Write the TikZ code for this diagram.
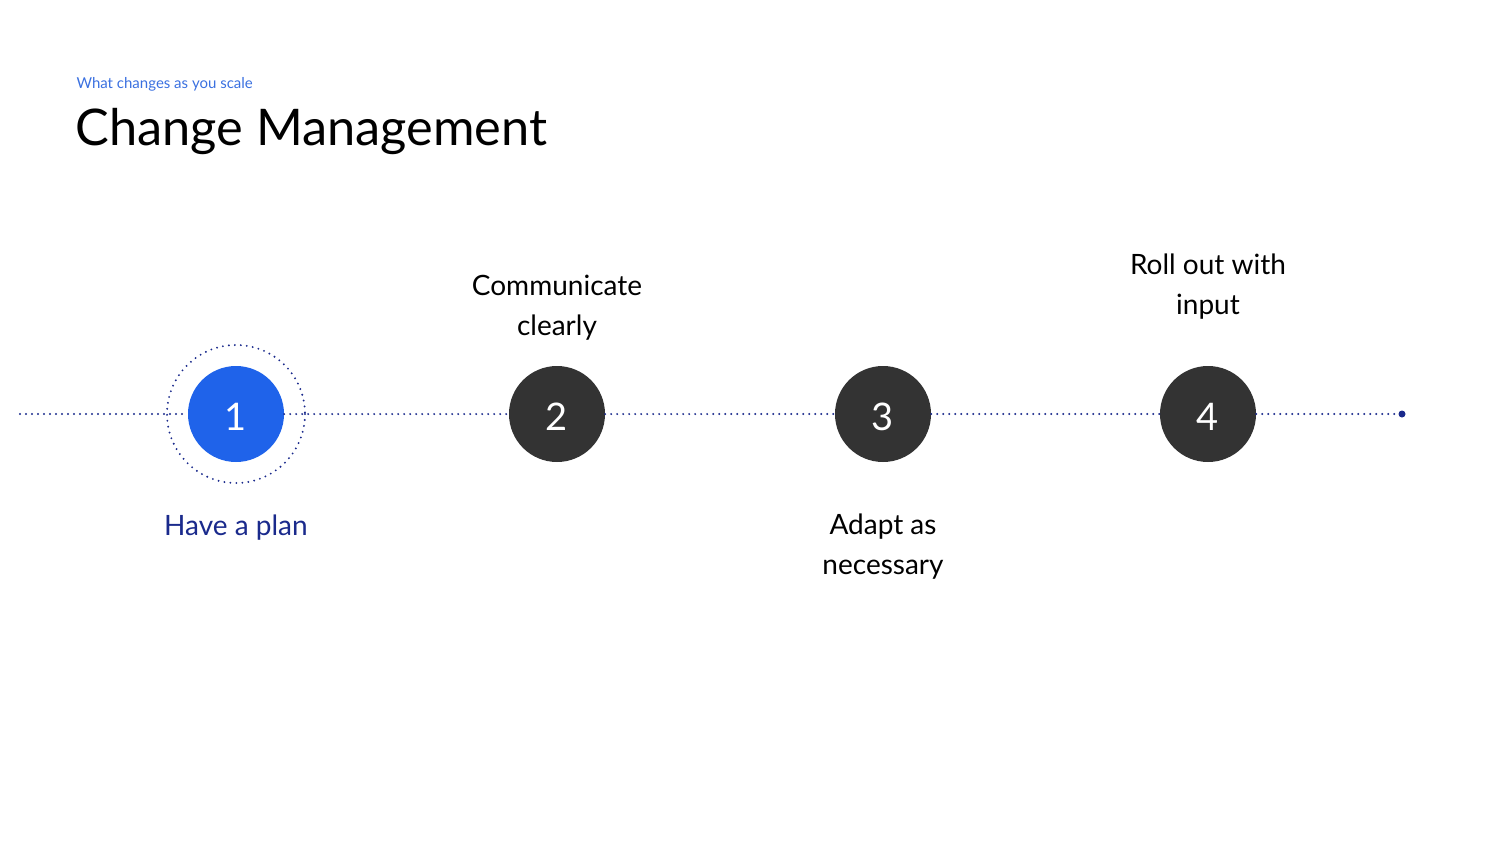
\documentclass[tikz,border=0pt]{standalone}
\usepackage{fontspec}
\setmainfont{Lato}
\usetikzlibrary{positioning}

\definecolor{stepblue}{HTML}{1F63EA}
\definecolor{stepgray}{HTML}{333333}
\definecolor{linenavy}{HTML}{1A2A8C}
\definecolor{subblue}{HTML}{3A70E0}

\newcommand{\stepnum}[1]{\raisebox{-3pt}[\height][0pt]{#1}}

\tikzset{
  stepcircle/.style={circle, fill=stepgray, minimum size=96pt, inner sep=0pt,
    text=white, font=\fontsize{38}{38}\selectfont},
  steptext/.style={align=center, font=\fontsize{28}{40}\selectfont},
  dotline/.style={draw=linenavy, line width=2.1pt, line cap=round,
    dash pattern=on 0pt off 6pt}
}

\begin{document}
\begin{tikzpicture}[x=1pt, y=-1pt]
  \useasboundingbox (0, 0) rectangle (1500, 844);

  \node[anchor=base west, text=subblue, font=\fontsize{15}{18}\selectfont]
    (sub) at (73, 88) {What changes as you scale};
  \node[anchor=base west, font=\fontsize{50.5}{60}\selectfont]
    (title) at (72, 145) {Change Management};

  \coordinate (lstart) at (20, 414);
  \coordinate (lend) at (1402, 414);

  \node[stepcircle, fill=stepblue] (c1) at (236, 414) {\stepnum{1}};
  \node[stepcircle] (c2) at (557, 414) {\stepnum{2}};
  \node[stepcircle] (c3) at (883, 414) {\stepnum{3}};
  \node[stepcircle] (c4) at (1208, 414) {\stepnum{4}};

  \draw[dotline] (lstart) -- (c1) -- (c2) -- (c3) -- (c4) -- (lend);
  \draw[dotline] (c1) circle[radius=69];
  \fill[linenavy] (lend) circle[radius=3.5];

  \node[steptext, text=linenavy] (t1) at (236, 528) {Have a plan};
  \node[steptext] (t2) at (557, 308) {Communicate\\clearly};
  \node[steptext] (t3) at (883, 547) {Adapt as\\necessary};
  \node[steptext] (t4) at (1208, 287) {Roll out with\\input};
\end{tikzpicture}
\end{document}
